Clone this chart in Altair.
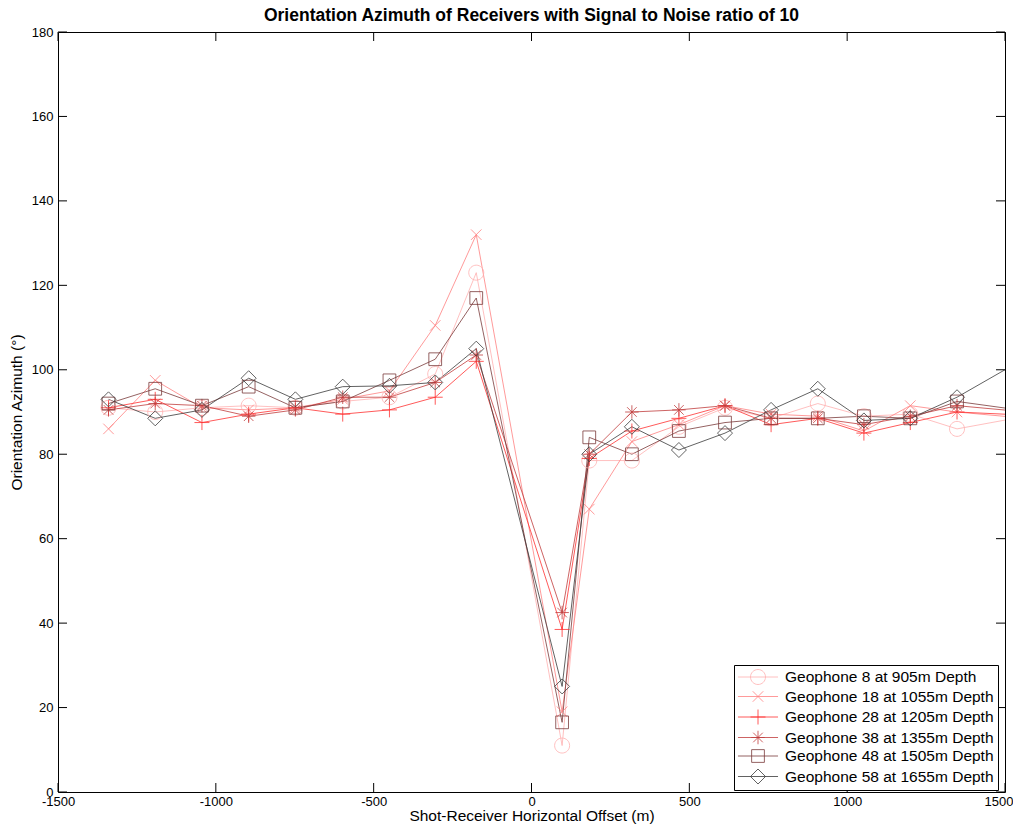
import altair as alt
import pandas as pd

# ---------------- data ----------------
offsets = [-1340, -1192, -1044, -896, -748, -598, -450, -305, -175, 97, 183, 318,
           467, 613, 759, 907, 1053, 1200, 1348, 1640]

series_names = [
    "Geophone 8 at 905m Depth",
    "Geophone 18 at 1055m Depth",
    "Geophone 28 at 1205m Depth",
    "Geophone 38 at 1355m Depth",
    "Geophone 48 at 1505m Depth",
    "Geophone 58 at 1655m Depth",
]

g8 = [91, 90, 91, 91.5, 91, 92.5, 93.5, 99, 123, 11, 78.5, 78.5, 86.5, 91, 88.5, 92, 89, 89.5, 86, 90]
g18 = [86, 97.5, 91, 90.5, 91, 93, 95, 110.5, 132, 19, 67, 83, 87, 91.5, 89.5, 89, 85.5, 91.5, 90, 88]
g28 = [91, 93, 87.5, 89.5, 91, 89.5, 90.5, 93.5, 102, 38.5, 79, 85.5, 88.5, 91.5, 87, 88.5, 85, 87.5, 90, 89]
g38 = [90.5, 92, 91.5, 89, 90.5, 93.5, 93.5, 97, 103.5, 42.5, 80, 90, 90.5, 91.5, 88.5, 88.5, 87, 89, 91.5, 89.5]
g48 = [92, 95.5, 91.5, 96, 91, 92.5, 97.5, 102.5, 117, 16.5, 84, 80, 85.5, 87.5, 88.5, 88.5, 89, 88.5, 92.5, 89.5]
g58 = [93, 88.5, 90.5, 98, 93, 96, 96.2, 97, 105, 25, 80, 86.5, 81, 85, 90.5, 95.5, 88, 88.5, 93.5, 106]

series_values = [g8, g18, g28, g38, g48, g58]

x_ticks = [-1500, -1000, -500, 0, 500, 1000, 1500]
y_ticks = [0, 20, 40, 60, 80, 100, 120, 140, 160, 180]

# ---------------- styles ----------------
colors = ["#ffb0b0", "#ff8080", "#ff3030", "#c03c3c", "#7a3a3a", "#3a3a3a"]

circle = "M-1,0A1,1,0,1,1,1,0A1,1,0,1,1,-1,0Z"
xmark = "M-0.7,-0.7L0.7,0.7M-0.7,0.7L0.7,-0.7"
plus = "M-1,0L1,0M0,-1L0,1"
aster = "M-0.9,0L0.9,0M0,-0.9L0,0.9M-0.64,-0.64L0.64,0.64M-0.64,0.64L0.64,-0.64"
square = "M-0.85,-0.85L0.85,-0.85L0.85,0.85L-0.85,0.85Z"
diamond = "M0,-1L1,0L0,1L-1,0Z"
point_paths = [circle, xmark, plus, aster, square, diamond]
leg_line = "M-2.67,0L2.67,0"
legend_paths = [leg_line + p for p in point_paths]

W, H = 947, 760
FONT = "Liberation Sans"

rows = []
for name, vals in zip(series_names, series_values):
    for o, v in zip(offsets, vals):
        rows.append({"offset": o, "azimuth": v, "series": name})
df = pd.DataFrame(rows)

xt = pd.DataFrame({"t": x_ticks})
yt = pd.DataFrame({"t": y_ticks})

xscale = alt.Scale(domain=[-1500, 1500], nice=False, zero=False)
yscale = alt.Scale(domain=[0, 180], nice=False)

X = alt.X("offset:Q", scale=xscale,
          axis=alt.Axis(values=x_ticks, ticks=False, domain=False, grid=False, labelFlush=False,
                        labelOverlap=False,
                        labelAlign={"condition": {"test": "datum.value >= 1500", "value": "right"},
                                    "value": "center"},
                        labelOffset={"condition": {"test": "datum.value >= 1500", "value": 8},
                                     "value": 0},
                        title="Shot-Receiver Horizontal Offset (m)",
                        labelExpr="datum.value + ''", labelPadding=3, titlePadding=0))
Y = alt.Y("azimuth:Q", scale=yscale,
          axis=alt.Axis(values=y_ticks, ticks=False, domain=False, grid=False, labelFlush=False,
                        labelOverlap=False,
                        title="Orientation Azimuth (°)",
                        labelExpr="datum.value + ''", labelPadding=5, titlePadding=7))

base = alt.Chart(df)

lines = base.mark_line(clip=True, strokeWidth=0.8).encode(
    x=X, y=Y,
    color=alt.Color("series:N", scale=alt.Scale(domain=series_names, range=colors), legend=None),
)

points = base.mark_point(clip=True, filled=False, strokeWidth=0.8, size=225, opacity=1).encode(
    x=X, y=Y,
    color=alt.Color("series:N", scale=alt.Scale(domain=series_names, range=colors), legend=None),
    shape=alt.Shape("series:N", scale=alt.Scale(domain=series_names, range=point_paths), legend=None),
)

leg = alt.Legend(
    title=None, orient="none", legendX=676, legendY=633,
    strokeColor="black", fillColor="white", padding=4, cornerRadius=0,
    symbolSize=225, symbolStrokeWidth=0.8, symbolOffset=12, labelOffset=19,
    labelFont=FONT, labelFontSize=15.5, labelColor="black", rowPadding=1.5, labelLimit=400,
)
legend_layer = base.transform_filter("datum.offset > 100000").mark_point(
    filled=False, strokeWidth=0.8, size=225, opacity=1
).encode(
    x=X, y=Y,
    color=alt.Color("series:N", scale=alt.Scale(domain=series_names, range=colors), legend=leg),
    shape=alt.Shape("series:N", scale=alt.Scale(domain=series_names, range=legend_paths), legend=leg),
)

TL = 9
xt_bot = alt.Chart(xt).mark_rule(color="black", strokeWidth=1).encode(
    x=alt.X("t:Q", scale=xscale), y=alt.value(H), y2=alt.value(H - TL))
xt_top = alt.Chart(xt).mark_rule(color="black", strokeWidth=1).encode(
    x=alt.X("t:Q", scale=xscale), y=alt.value(0), y2=alt.value(TL))
yt_left = alt.Chart(yt).mark_rule(color="black", strokeWidth=1).encode(
    y=alt.Y("t:Q", scale=yscale), x=alt.value(0), x2=alt.value(TL))
yt_right = alt.Chart(yt).mark_rule(color="black", strokeWidth=1).encode(
    y=alt.Y("t:Q", scale=yscale), x=alt.value(W - TL), x2=alt.value(W))

chart = alt.layer(
    xt_bot, xt_top, yt_left, yt_right, lines, points, legend_layer
).resolve_scale(
    color="independent", shape="independent"
).properties(
    width=W, height=H,
    autosize=alt.AutoSizeParams(type="none"),
    padding={"left": 50, "top": 24, "right": 8, "bottom": 32},
    title=alt.TitleParams(
        text="Orientation Azimuth of Receivers with Signal to Noise ratio of 10",
        font=FONT, fontSize=17.5, fontWeight="bold", color="black", anchor="middle", offset=2,
    ),
).configure_view(
    stroke="black", strokeWidth=1
).configure_axis(
    labelFont=FONT, labelFontSize=13, labelColor="black",
    titleFont=FONT, titleFontSize=15.5, titleFontWeight="normal", titleColor="black",
)

chart.save("out.html", embed_options={"renderer": "svg", "actions": False})
